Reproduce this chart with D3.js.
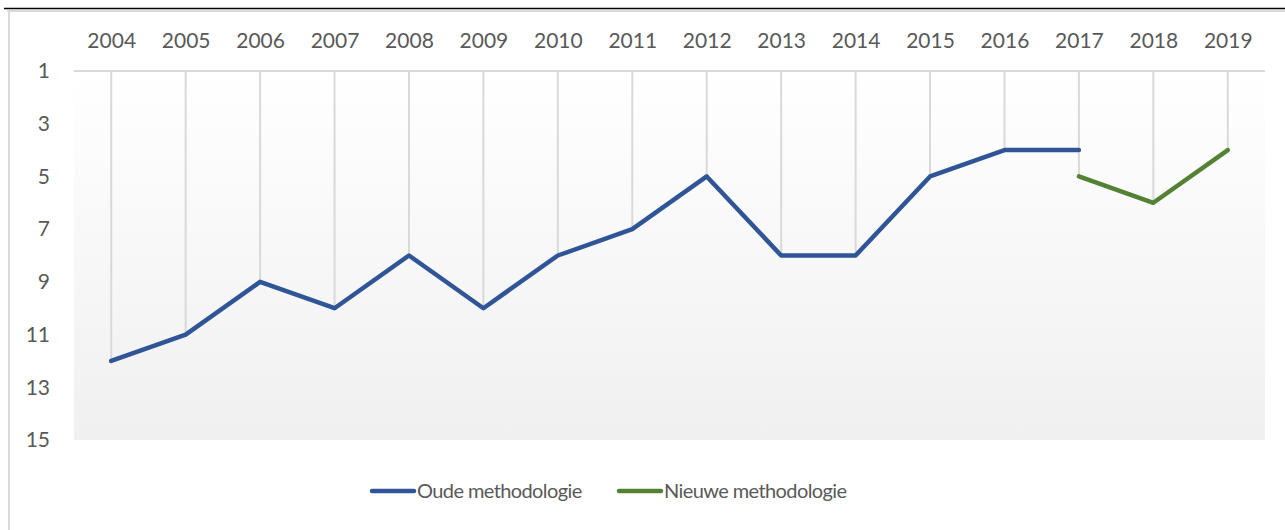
<!DOCTYPE html>
<html>
<head>
<meta charset="utf-8">
<script src="https://cdn.jsdelivr.net/npm/d3@7"></script>
<style>
  body { margin: 0; background: #fff; }
  svg { display: block; font-family: Lato, "Open Sans", sans-serif; }
</style>
</head>
<body>
<div id="chart"></div>
<script>
// Chart data
const years = ["2004","2005","2006","2007","2008","2009","2010","2011","2012","2013","2014","2015","2016","2017","2018","2019"];
const oudeYears = ["2004","2005","2006","2007","2008","2009","2010","2011","2012","2013","2014","2015","2016","2017"];
const oudeValues = [12, 11, 9, 10, 8, 10, 8, 7, 5, 8, 8, 5, 4, 4];
const nieuweYears = ["2017","2018","2019"];
const nieuweValues = [5, 6, 4];
const yTicks = [1, 3, 5, 7, 9, 11, 13, 15];
const seriesNames = ["Oude methodologie", "Nieuwe methodologie"];
const seriesColors = ["#2F5597", "#548235"];

const width = 1285, height = 530;
const plot = { left: 74, right: 1265, top: 71, bottom: 440 };

const svg = d3.select("#chart").append("svg")
    .attr("width", width)
    .attr("height", height);

// frame lines at the top / left (cropped document border)
svg.append("line")
    .attr("x1", 4).attr("x2", width).attr("y1", 8.5).attr("y2", 8.5)
    .attr("stroke", "#000").attr("stroke-width", 1.5);
svg.append("line")
    .attr("x1", 7).attr("x2", width).attr("y1", 11).attr("y2", 11)
    .attr("stroke", "#d9d9d9").attr("stroke-width", 2);
svg.append("line")
    .attr("x1", 9).attr("x2", 9).attr("y1", 10).attr("y2", height)
    .attr("stroke", "#d9d9d9").attr("stroke-width", 2);

// Scales
const x = d3.scalePoint()
    .domain(years)
    .range([plot.left, plot.right])
    .padding(0.5);

const y = d3.scaleLinear()
    .domain([1, 15])
    .range([plot.top, plot.bottom]);

// Plot area gradient
const defs = svg.append("defs");
const grad = defs.append("linearGradient")
    .attr("id", "plot-bg")
    .attr("x1", "0%").attr("y1", "0%")
    .attr("x2", "0%").attr("y2", "100%");
grad.append("stop").attr("offset", "0%").attr("stop-color", "#ffffff");
grad.append("stop").attr("offset", "100%").attr("stop-color", "#f0f0f0");

svg.append("rect")
    .attr("x", plot.left).attr("y", plot.top)
    .attr("width", plot.right - plot.left)
    .attr("height", plot.bottom - plot.top)
    .attr("fill", "url(#plot-bg)");

// Top gridline (category axis line, reversed value axis)
svg.append("line")
    .attr("x1", plot.left).attr("x2", plot.right)
    .attr("y1", y(1)).attr("y2", y(1))
    .attr("stroke", "#d9d9d9").attr("stroke-width", 2);

// Drop lines from axis to the data points
const oudeMap = new Map(oudeYears.map((d, i) => [d, oudeValues[i]]));
const nieuweMap = new Map(nieuweYears.map((d, i) => [d, nieuweValues[i]]));
const dropData = years.map(yr => {
    const vals = [oudeMap.get(yr), nieuweMap.get(yr)].filter(v => v !== undefined);
    return { year: yr, value: d3.max(vals) };
});

svg.append("g").selectAll("line")
    .data(dropData)
    .enter().append("line")
    .attr("x1", d => x(d.year)).attr("x2", d => x(d.year))
    .attr("y1", y(1)).attr("y2", d => y(d.value))
    .attr("stroke", "#d9d9d9").attr("stroke-width", 2);

// X axis labels (on top)
const xAxis = svg.append("g")
    .attr("transform", `translate(0,${plot.top})`)
    .call(d3.axisTop(x).tickSize(0).tickPadding(23));
xAxis.select(".domain").remove();
xAxis.selectAll("text")
    .attr("fill", "#595959")
    .attr("font-size", "21px")
    .attr("font-family", "Lato, sans-serif");

// Y axis labels
const yAxis = svg.append("g")
    .attr("transform", `translate(${plot.left},0)`)
    .call(d3.axisLeft(y).tickValues(yTicks).tickSize(0).tickPadding(24));
yAxis.select(".domain").remove();
yAxis.selectAll("text")
    .attr("fill", "#595959")
    .attr("font-size", "21px")
    .attr("font-family", "Lato, sans-serif");

// Lines
const line = d3.line()
    .x(d => x(d.year))
    .y(d => y(d.value));

const series = [
    oudeYears.map((yr, i) => ({ year: yr, value: oudeValues[i] })),
    nieuweYears.map((yr, i) => ({ year: yr, value: nieuweValues[i] }))
];

svg.append("g").selectAll("path")
    .data(series)
    .enter().append("path")
    .attr("d", line)
    .attr("fill", "none")
    .attr("stroke", (d, i) => seriesColors[i])
    .attr("stroke-width", 4.5)
    .attr("stroke-linejoin", "round")
    .attr("stroke-linecap", "round");

// Legend
const legendX = [370, 617];
const legend = svg.append("g").selectAll("g")
    .data(seriesNames)
    .enter().append("g")
    .attr("transform", (d, i) => `translate(${legendX[i]},491)`);

legend.append("line")
    .attr("x1", 2).attr("x2", 44)
    .attr("y1", 0).attr("y2", 0)
    .attr("stroke", (d, i) => seriesColors[i])
    .attr("stroke-width", 4.5)
    .attr("stroke-linecap", "round");

legend.append("text")
    .attr("x", 47)
    .attr("y", 0)
    .attr("dy", "0.35em")
    .attr("fill", "#595959")
    .attr("font-size", "20px")
    .attr("letter-spacing", "-0.6px")
    .text(d => d);
</script>
</body>
</html>
